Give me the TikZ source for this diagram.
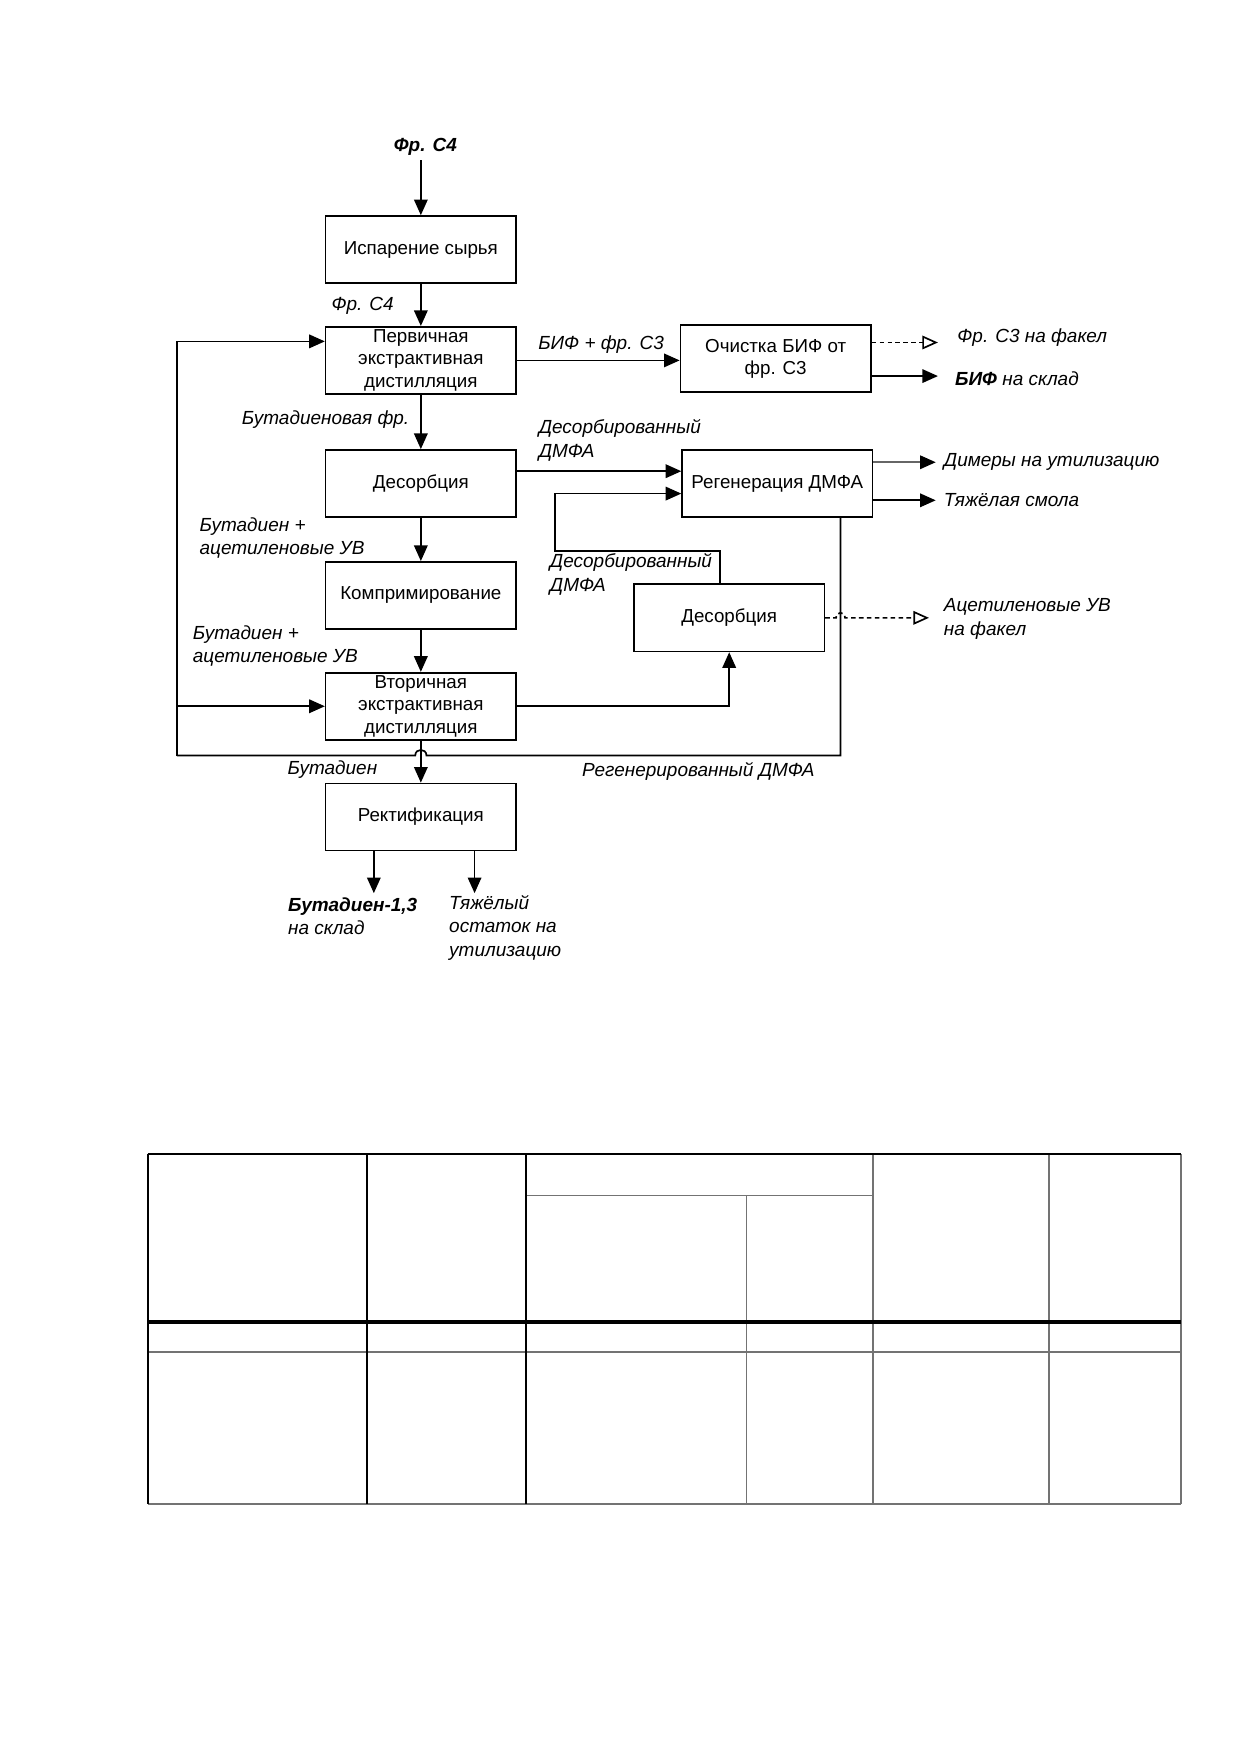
\documentclass[tikz,border=0pt]{standalone}
\usepackage{fontspec}
\setmainfont{Liberation Sans}
\usetikzlibrary{arrows.meta,calc}
\begin{document}
\begin{tikzpicture}[x=0.5368pt,y=-0.5368pt,
  box/.style={draw,line width=0.8pt,minimum width=91.3pt,minimum height=32.2pt,inner sep=1pt,align=center,font=\fontsize{9}{10.7}\selectfont},
  lbl/.style={font=\fontsize{9.1}{11.3}\selectfont\itshape,align=left,inner sep=0pt},
  flow/.style={line width=0.8pt,-{Triangle[length=7.5pt,width=6.5pt,color=black]}},
  dflow/.style={line width=0.8pt,dash pattern=on 2.2pt off 1.6pt,-{Triangle[open,length=7.5pt,width=6.5pt]}},
  plain/.style={line width=0.8pt},
  tblk/.style={line width=0.8pt,black},
  tgry/.style={line width=0.8pt,black!55}
]
\useasboundingbox (0,0) rectangle (1109,1568);

% boxes
\node[box] (b1) at (376,223) {Испарение сырья};
\node[box] (b2) at (376,322) {Первичная\\экстрактивная\\дистилляция};
\node[box] (b3) at (376,432) {Десорбция};
\node[box] (b4) at (376,532) {Компримирование};
\node[box] (b5) at (376,631) {Вторичная\\экстрактивная\\дистилляция};
\node[box] (b6) at (376,730) {Ректификация};
\node[box] (b7) at (693,320.5) {Очистка БИФ от\\фр. С3};
\node[box] (b8) at (694.5,432) {Регенерация ДМФА};
\node[box] (b9) at (651.5,552) {Десорбция};

% coordinates
\coordinate (in1) at (376,143);
\coordinate (o1) at (838,306);
\coordinate (o2) at (838,336);
\coordinate (o3) at (836,413);
\coordinate (o4) at (836,447);
\coordinate (o5) at (830,552);
\coordinate (o6) at (334,798);
\coordinate (o7) at (424,798);
\coordinate (c1) at (496,492);
\coordinate (r1) at (751,675);
\coordinate (r2) at (158,675);

% main flow
\draw[flow] (in1) -- (b1.north);
\draw[flow] (b1) -- (b2);
\draw[flow] (b2) -- (b3);
\draw[flow] (b3) -- (b4);
\draw[flow] (b4) -- (b5);
\draw[flow] (b5) -- (b6);
\draw[flow] (b6.south -| o6) -- (o6);
\draw[flow] (b6.south -| o7) -- (o7);

% side flows
\draw[flow] (b2.east) -- (b2.east -| b7.west);
\draw[dflow] (b7.east |- o1) -- (o1);
\draw[flow] (b7.east |- o2) -- (o2);
\draw[flow] ($(b3.east)+(0,-11)$) -- ($(b8.west)+(0,-11)$);
\draw[flow,black!60] (b8.east |- o3) -- (o3);
\draw[flow] (b8.east |- o4) -- (o4);
\draw[flow] ($(b9.north)+(-8.5,0)$) |- (c1) |- ($(b8.west)+(0,9)$);
\draw[flow] (b5.east) -| (b9.south);
\draw[dflow] (b9.east) -- (747,552) .. controls (747,546) and (755,546) .. (755,552) -- (o5);

% recycle loop
\draw[plain] (b8.south -| r1) -- (r1) -- (381,675) .. controls (381,668.3) and (371,668.3) .. (371,675) -- (r2);
\draw[flow] (r2) |- ($(b2.west)+(0,-17)$);
\draw[flow] (r2 |- b5.west) -- (b5.west);

% labels
\node[lbl,font=\fontsize{9.1}{11.3}\selectfont\bfseries\itshape] (t1) at (380,131) {Фр. С4};
\node[lbl] (t2) at (324,273) {Фр. С4};
\node[lbl] (t3) at (537,308) {БИФ + фр. С3};
\node[lbl,anchor=west] (t4) at (855,302) {Фр. С3 на факел};
\node[lbl,anchor=west] (t5) at (853,338) {\textbf{БИФ} на склад};
\node[lbl,anchor=east] (t6) at (366,375) {Бутадиеновая фр.};
\node[lbl,anchor=west] (t7) at (481,393.5) {Десорбированный\\ДМФА};
\node[lbl,anchor=west] (t8) at (843,413) {Димеры на утилизацию};
\node[lbl,anchor=west] (t9) at (843,447) {Тяжёлая смола};
\node[lbl,anchor=west] (t10) at (178,480.5) {Бутадиен +\\ацетиленовые УВ};
\node[lbl,anchor=west] (t11) at (491,513) {Десорбированный\\ДМФА};
\node[lbl,anchor=west] (t12) at (843,553) {Ацетиленовые УВ\\на факел};
\node[lbl,anchor=west] (t13) at (172,577) {Бутадиен +\\ацетиленовые УВ};
\node[lbl] (t14) at (297,688) {Бутадиен};
\node[lbl] (t15) at (624,689) {Регенерированный ДМФА};
\node[lbl,anchor=west] (t16) at (257,818.5) {\textbf{Бутадиен-1,3}\\на склад};
\node[lbl,anchor=west] (t17) at (401,829) {Тяжёлый\\остаток на\\утилизацию};

% table
\draw[tgry] (667,1068) -- (667,1344);
\draw[tgry] (780,1031) -- (780,1344);
\draw[tgry] (937,1031) -- (937,1344);
\draw[tgry] (1055,1031) -- (1055,1344);
\draw[tgry] (470,1068) -- (780,1068);
\draw[tgry] (132,1208) -- (1055,1208);
\draw[tgry] (132,1344) -- (1055,1344);
\draw[tblk] (132,1031) -- (1055,1031);
\draw[tblk] (132,1031) -- (132,1344);
\draw[tblk] (328,1031) -- (328,1344);
\draw[tblk] (470,1031) -- (470,1344);
\draw[black,line width=2pt] (132,1181) -- (1055,1181);
\end{tikzpicture}
\end{document}
